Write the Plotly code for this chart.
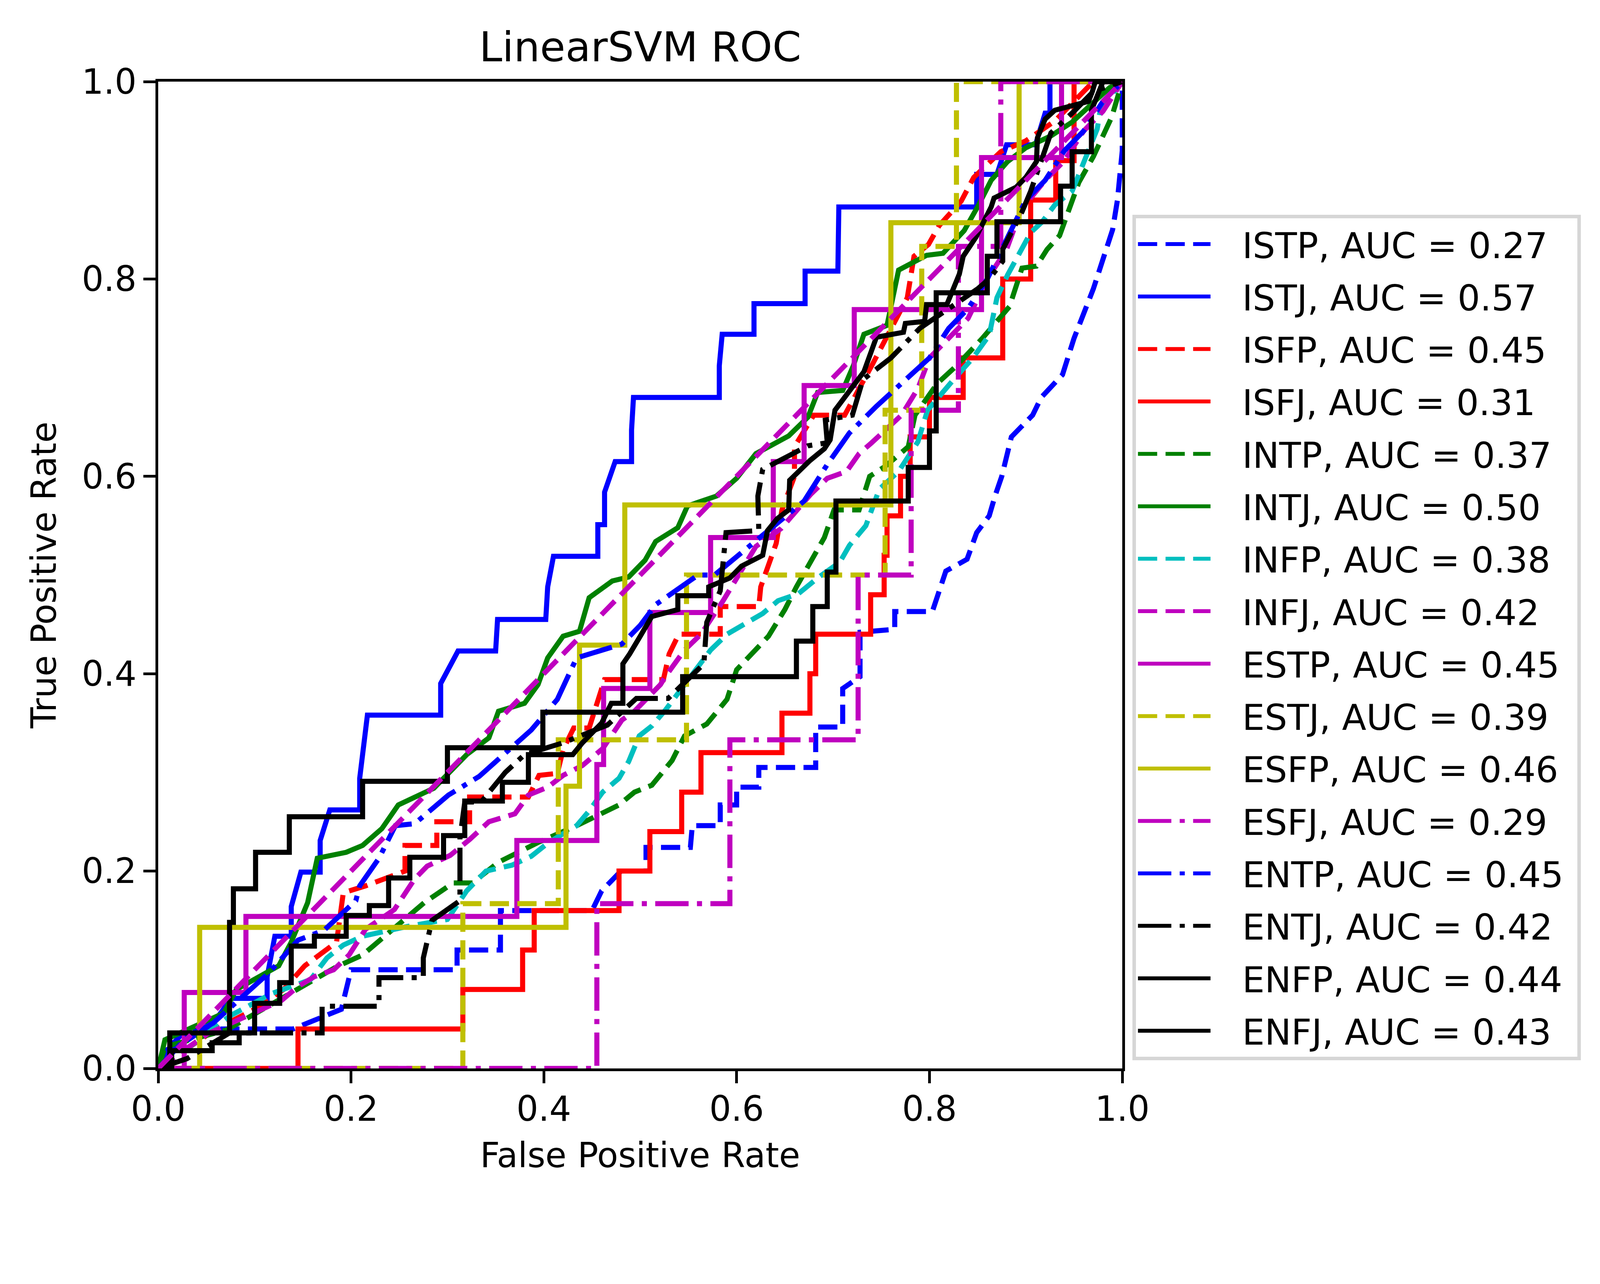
import plotly.graph_objects as go

# ROC points (fpr, tpr)
istp = [(0, 0), (0.01, 0.02), (0.03, 0.04), (0.14, 0.04), (0.19, 0.06), (0.2, 0.1), (0.31, 0.1), (0.31, 0.12),
        (0.355, 0.12), (0.355, 0.16), (0.45, 0.16), (0.46, 0.18), (0.48, 0.2), (0.506, 0.2), (0.506, 0.224),
        (0.552, 0.224), (0.554, 0.246), (0.583, 0.246), (0.583, 0.267), (0.6, 0.267), (0.6, 0.285),
        (0.623, 0.285), (0.623, 0.305), (0.682, 0.305), (0.682, 0.346), (0.71, 0.346), (0.71, 0.385),
        (0.728, 0.397), (0.728, 0.442), (0.764, 0.445), (0.764, 0.463), (0.803, 0.463), (0.817, 0.504),
        (0.839, 0.516), (0.849, 0.543), (0.862, 0.56), (0.868, 0.58), (0.875, 0.6), (0.885, 0.64),
        (0.907, 0.662), (0.916, 0.68), (0.938, 0.703), (0.95, 0.74), (0.97, 0.79), (0.98, 0.82),
        (0.99, 0.85), (0.995, 0.88), (1.0, 0.93), (1.0, 1.0)]
istj = [(0, 0), (0.007, 0.018), (0.031, 0.029), (0.057, 0.046), (0.076, 0.071), (0.113, 0.071), (0.113, 0.093),
        (0.121, 0.134), (0.138, 0.134), (0.138, 0.164), (0.148, 0.199), (0.168, 0.199), (0.168, 0.231),
        (0.178, 0.262), (0.209, 0.262), (0.209, 0.294), (0.217, 0.358), (0.293, 0.358), (0.293, 0.39),
        (0.311, 0.423), (0.35, 0.423), (0.352, 0.455), (0.402, 0.455), (0.404, 0.488), (0.41, 0.519),
        (0.456, 0.519), (0.456, 0.551), (0.463, 0.551), (0.463, 0.584), (0.474, 0.615), (0.491, 0.615),
        (0.491, 0.647), (0.493, 0.68), (0.582, 0.68), (0.582, 0.712), (0.585, 0.744), (0.618, 0.744),
        (0.618, 0.775), (0.671, 0.775), (0.671, 0.808), (0.705, 0.808), (0.705, 0.842), (0.706, 0.873),
        (0.849, 0.873), (0.849, 0.906), (0.87, 0.906), (0.88, 0.936), (0.91, 0.936), (0.92, 0.968),
        (0.925, 0.968), (0.925, 1.0), (1, 1)]
isfp = [(0, 0), (0.03, 0.02), (0.06, 0.04), (0.1, 0.06), (0.13, 0.08), (0.152, 0.104), (0.185, 0.128),
        (0.192, 0.178), (0.215, 0.185), (0.256, 0.2), (0.256, 0.226), (0.289, 0.226), (0.289, 0.25),
        (0.323, 0.25), (0.323, 0.275), (0.384, 0.275), (0.395, 0.297), (0.414, 0.299), (0.42, 0.323),
        (0.431, 0.345), (0.447, 0.345), (0.463, 0.394), (0.524, 0.394), (0.53, 0.42), (0.54, 0.44),
        (0.583, 0.44), (0.583, 0.468), (0.623, 0.468), (0.625, 0.488), (0.641, 0.532), (0.647, 0.566),
        (0.66, 0.6), (0.66, 0.63), (0.68, 0.662), (0.712, 0.662), (0.74, 0.712), (0.777, 0.781),
        (0.784, 0.823), (0.799, 0.835), (0.81, 0.854), (0.833, 0.879), (0.846, 0.903), (0.874, 0.929),
        (0.9, 0.94), (0.93, 0.96), (0.95, 0.98), (0.97, 1.0), (1, 1)]
isfj = [(0, 0), (0.145, 0), (0.145, 0.04), (0.316, 0.04), (0.316, 0.08), (0.378, 0.08), (0.378, 0.12),
        (0.39, 0.12), (0.39, 0.16), (0.478, 0.16), (0.478, 0.2), (0.51, 0.2), (0.51, 0.24), (0.543, 0.24),
        (0.543, 0.28), (0.563, 0.28), (0.563, 0.32), (0.647, 0.32), (0.647, 0.36), (0.676, 0.36),
        (0.676, 0.4), (0.682, 0.4), (0.682, 0.44), (0.739, 0.44), (0.739, 0.48), (0.753, 0.48),
        (0.753, 0.52), (0.756, 0.52), (0.756, 0.56), (0.77, 0.56), (0.77, 0.6), (0.78, 0.6), (0.78, 0.64),
        (0.8, 0.64), (0.8, 0.68), (0.835, 0.68), (0.835, 0.72), (0.876, 0.72), (0.876, 0.8), (0.905, 0.8),
        (0.905, 0.88), (0.931, 0.88), (0.931, 0.92), (0.95, 0.92), (0.95, 1.0), (1, 1)]
intp = [(0, 0), (0.007, 0.022), (0.071, 0.039), (0.125, 0.069), (0.145, 0.08), (0.185, 0.103), (0.212, 0.115),
        (0.239, 0.137), (0.276, 0.168), (0.306, 0.188), (0.326, 0.188), (0.353, 0.209), (0.394, 0.229),
        (0.434, 0.246), (0.478, 0.267), (0.494, 0.28), (0.512, 0.287), (0.533, 0.312), (0.546, 0.337),
        (0.569, 0.349), (0.59, 0.374), (0.6, 0.404), (0.616, 0.42), (0.633, 0.438), (0.65, 0.465),
        (0.662, 0.488), (0.691, 0.538), (0.701, 0.566), (0.727, 0.566), (0.738, 0.6), (0.754, 0.61),
        (0.778, 0.63), (0.785, 0.662), (0.808, 0.694), (0.828, 0.712), (0.855, 0.74), (0.883, 0.772),
        (0.896, 0.811), (0.911, 0.813), (0.922, 0.83), (0.935, 0.844), (0.946, 0.872), (0.955, 0.898),
        (0.97, 0.924), (0.979, 0.943), (0.989, 0.964), (1, 1)]
intj = [(0, 0), (0.007, 0.029), (0.068, 0.056), (0.081, 0.08), (0.125, 0.104), (0.138, 0.128), (0.155, 0.168),
        (0.165, 0.213), (0.195, 0.219), (0.212, 0.226), (0.232, 0.243), (0.249, 0.267), (0.286, 0.284),
        (0.299, 0.297), (0.32, 0.318), (0.343, 0.335), (0.353, 0.362), (0.38, 0.37), (0.394, 0.389),
        (0.404, 0.416), (0.42, 0.438), (0.437, 0.443), (0.447, 0.477), (0.471, 0.494), (0.488, 0.498),
        (0.505, 0.515), (0.516, 0.534), (0.539, 0.548), (0.549, 0.57), (0.579, 0.58), (0.6, 0.598),
        (0.62, 0.623), (0.654, 0.641), (0.674, 0.66), (0.684, 0.685), (0.71, 0.687), (0.721, 0.712),
        (0.732, 0.744), (0.756, 0.753), (0.768, 0.809), (0.797, 0.824), (0.814, 0.826), (0.836, 0.849),
        (0.851, 0.875), (0.864, 0.9), (0.881, 0.919), (0.9, 0.933), (0.926, 0.945), (0.948, 0.959),
        (0.987, 0.994), (1, 1)]
infp = [(0, 0), (0.037, 0.025), (0.074, 0.053), (0.118, 0.076), (0.158, 0.09), (0.175, 0.112), (0.192, 0.125),
        (0.212, 0.134), (0.259, 0.144), (0.3, 0.151), (0.32, 0.18), (0.34, 0.2), (0.367, 0.206),
        (0.387, 0.215), (0.405, 0.229), (0.434, 0.246), (0.447, 0.261), (0.461, 0.28), (0.478, 0.294),
        (0.488, 0.311), (0.499, 0.337), (0.512, 0.347), (0.526, 0.363), (0.553, 0.397), (0.573, 0.424),
        (0.59, 0.44), (0.61, 0.452), (0.627, 0.461), (0.643, 0.474), (0.664, 0.481), (0.684, 0.497),
        (0.707, 0.513), (0.717, 0.53), (0.734, 0.55), (0.748, 0.587), (0.768, 0.605), (0.788, 0.635),
        (0.798, 0.667), (0.825, 0.698), (0.845, 0.72), (0.862, 0.743), (0.87, 0.781), (0.881, 0.804),
        (0.894, 0.828), (0.905, 0.847), (0.917, 0.858), (0.93, 0.875), (0.948, 0.889), (0.957, 0.91),
        (0.965, 0.929), (0.974, 0.952), (0.978, 0.976), (0.989, 0.987), (1, 1)]
infj = [(0, 0), (0.051, 0.035), (0.128, 0.069), (0.145, 0.083), (0.162, 0.093), (0.182, 0.1), (0.198, 0.115),
        (0.215, 0.141), (0.245, 0.161), (0.266, 0.192), (0.279, 0.205), (0.303, 0.216), (0.323, 0.232),
        (0.343, 0.25), (0.37, 0.258), (0.384, 0.277), (0.404, 0.285), (0.42, 0.297), (0.44, 0.307),
        (0.461, 0.324), (0.481, 0.353), (0.494, 0.362), (0.521, 0.389), (0.526, 0.397), (0.546, 0.424),
        (0.563, 0.44), (0.586, 0.474), (0.62, 0.529), (0.646, 0.547), (0.677, 0.582), (0.694, 0.598),
        (0.714, 0.605), (0.727, 0.623), (0.74, 0.634), (0.771, 0.662), (0.788, 0.689), (0.8, 0.72),
        (0.82, 0.74), (0.84, 0.76), (0.86, 0.8), (0.88, 0.83), (0.895, 0.87), (0.92, 0.9), (0.94, 0.92),
        (0.96, 0.95), (0.98, 0.97), (1, 1)]
estp = [(0, 0), (0.027, 0), (0.027, 0.077), (0.091, 0.077), (0.091, 0.154), (0.372, 0.154), (0.372, 0.231),
        (0.455, 0.231), (0.455, 0.308), (0.462, 0.308), (0.462, 0.385), (0.51, 0.385), (0.51, 0.462),
        (0.573, 0.462), (0.573, 0.538), (0.638, 0.538), (0.638, 0.615), (0.67, 0.615), (0.67, 0.692),
        (0.722, 0.692), (0.722, 0.769), (0.854, 0.769), (0.854, 0.923), (0.937, 0.923), (0.937, 1.0), (1, 1)]
estj = [(0, 0), (0.316, 0), (0.316, 0.167), (0.415, 0.167), (0.415, 0.333), (0.548, 0.333), (0.548, 0.5),
        (0.754, 0.5), (0.754, 0.667), (0.792, 0.667), (0.792, 0.833), (0.828, 0.833), (0.828, 1.0), (1, 1)]
esfp = [(0, 0), (0.043, 0), (0.043, 0.143), (0.423, 0.143), (0.423, 0.286), (0.437, 0.286), (0.437, 0.429),
        (0.484, 0.429), (0.484, 0.571), (0.76, 0.571), (0.76, 0.857), (0.893, 0.857), (0.893, 1.0), (1, 1)]
esfj = [(0, 0), (0.455, 0), (0.455, 0.167), (0.593, 0.167), (0.593, 0.333), (0.726, 0.333), (0.726, 0.5),
        (0.781, 0.5), (0.781, 0.667), (0.83, 0.667), (0.83, 0.833), (0.874, 0.833), (0.874, 1.0), (1, 1)]
entp = [(0, 0), (0.03, 0.032), (0.057, 0.046), (0.098, 0.083), (0.115, 0.097), (0.145, 0.13), (0.172, 0.14),
        (0.205, 0.17), (0.209, 0.185), (0.229, 0.213), (0.246, 0.246), (0.266, 0.248), (0.301, 0.277),
        (0.333, 0.296), (0.38, 0.336), (0.387, 0.343), (0.414, 0.374), (0.427, 0.403), (0.434, 0.416),
        (0.481, 0.43), (0.5, 0.449), (0.516, 0.47), (0.56, 0.5), (0.577, 0.5), (0.67, 0.575), (0.694, 0.612),
        (0.717, 0.644), (0.745, 0.671), (0.778, 0.701), (0.8, 0.72), (0.82, 0.75), (0.84, 0.77), (0.86, 0.8),
        (0.88, 0.84), (0.9, 0.88), (0.92, 0.9), (0.94, 0.93), (0.96, 0.95), (0.98, 0.98), (1, 1)]
entj = [(0, 0), (0.03, 0.01), (0.074, 0.036), (0.17, 0.036), (0.17, 0.063), (0.229, 0.063), (0.229, 0.092),
        (0.275, 0.092), (0.275, 0.112), (0.284, 0.15), (0.313, 0.17), (0.313, 0.233), (0.318, 0.27),
        (0.335, 0.27), (0.36, 0.3), (0.38, 0.318), (0.42, 0.33), (0.466, 0.348), (0.496, 0.375),
        (0.529, 0.375), (0.566, 0.41), (0.569, 0.452), (0.583, 0.484), (0.589, 0.543), (0.623, 0.545),
        (0.622, 0.58), (0.627, 0.607), (0.674, 0.631), (0.694, 0.634), (0.692, 0.657), (0.72, 0.662),
        (0.731, 0.698), (0.76, 0.72), (0.79, 0.75), (0.82, 0.77), (0.85, 0.79), (0.862, 0.8), (0.876, 0.818),
        (0.876, 0.83), (0.896, 0.868), (0.905, 0.889), (0.926, 0.948), (0.95, 0.97), (0.97, 0.99), (1, 1)]
enfp = [(0, 0), (0.012, 0), (0.012, 0.036), (0.074, 0.036), (0.074, 0.148), (0.078, 0.148), (0.078, 0.182),
        (0.101, 0.182), (0.101, 0.219), (0.136, 0.219), (0.136, 0.255), (0.212, 0.255), (0.212, 0.291),
        (0.3, 0.291), (0.3, 0.325), (0.399, 0.325), (0.399, 0.361), (0.544, 0.361), (0.544, 0.397),
        (0.662, 0.397), (0.662, 0.433), (0.679, 0.433), (0.679, 0.468), (0.694, 0.468), (0.694, 0.503),
        (0.703, 0.503), (0.703, 0.575), (0.778, 0.575), (0.778, 0.609), (0.8, 0.609), (0.8, 0.646),
        (0.807, 0.646), (0.807, 0.786), (0.86, 0.786), (0.86, 0.823), (0.87, 0.823), (0.87, 0.858),
        (0.936, 0.858), (0.936, 0.894), (0.948, 0.894), (0.948, 0.929), (0.968, 0.929), (0.968, 0.971),
        (0.98, 1.0), (1, 1)]
enfj = [(0, 0), (0.014, 0), (0.014, 0.018), (0.056, 0.018), (0.056, 0.026), (0.084, 0.026), (0.084, 0.036),
        (0.1, 0.036), (0.1, 0.066), (0.126, 0.066), (0.126, 0.087), (0.138, 0.087), (0.138, 0.124),
        (0.162, 0.124), (0.162, 0.134), (0.195, 0.134), (0.195, 0.155), (0.219, 0.155), (0.219, 0.165),
        (0.239, 0.165), (0.239, 0.193), (0.261, 0.193), (0.261, 0.214), (0.296, 0.214), (0.296, 0.236),
        (0.318, 0.236), (0.318, 0.271), (0.357, 0.271), (0.357, 0.29), (0.384, 0.29), (0.384, 0.318),
        (0.43, 0.318), (0.44, 0.33), (0.45, 0.34), (0.46, 0.35), (0.47, 0.37), (0.482, 0.37), (0.482, 0.41),
        (0.489, 0.42), (0.5, 0.438), (0.512, 0.458), (0.539, 0.465), (0.539, 0.479), (0.571, 0.479),
        (0.571, 0.488), (0.593, 0.497), (0.605, 0.509), (0.627, 0.52), (0.632, 0.545), (0.642, 0.557),
        (0.654, 0.566), (0.655, 0.596), (0.676, 0.616), (0.691, 0.628), (0.697, 0.637), (0.702, 0.667),
        (0.716, 0.685), (0.727, 0.7), (0.732, 0.706), (0.745, 0.741), (0.773, 0.746), (0.775, 0.755),
        (0.795, 0.757), (0.797, 0.774), (0.818, 0.774), (0.831, 0.805), (0.835, 0.823), (0.848, 0.842),
        (0.855, 0.856), (0.864, 0.873), (0.867, 0.882), (0.89, 0.893), (0.9, 0.903), (0.911, 0.919),
        (0.912, 0.943), (0.92, 0.962), (0.93, 0.971), (0.965, 0.98), (0.969, 0.99), (0.972, 1.0), (1, 1)]

types = ['ISTP', 'ISTJ', 'ISFP', 'ISFJ', 'INTP', 'INTJ', 'INFP', 'INFJ',
         'ESTP', 'ESTJ', 'ESFP', 'ESFJ', 'ENTP', 'ENTJ', 'ENFP', 'ENFJ']
aucs = [0.27, 0.57, 0.45, 0.31, 0.37, 0.50, 0.38, 0.42,
        0.45, 0.39, 0.46, 0.29, 0.45, 0.42, 0.44, 0.43]
curves = [istp, istj, isfp, isfj, intp, intj, infp, infj,
          estp, estj, esfp, esfj, entp, entj, enfp, enfj]
styles = ['b--', 'b-', 'r--', 'r-', 'g--', 'g-', 'c--', 'm--',
          'm-', 'y--', 'y-', 'm-.', 'b-.', 'k-.', 'k-', 'k-']

colors = {'b': '#0000ff', 'r': '#ff0000', 'g': '#008000', 'c': '#00bfbf',
          'm': '#bf00bf', 'y': '#bfbf00', 'k': '#000000'}

# the page gets shown a bit enlarged, so every pixel size is scaled down
S = 0.9285


def px(v):
    return v * S


dashes = {'--': '{:.1f}px,{:.1f}px'.format(px(53), px(23)),
          '-.': '{:.1f}px,{:.1f}px,{:.1f}px,{:.1f}px'.format(px(92), px(23), px(14), px(23)),
          '-': 'solid'}

FONT = 'DejaVu Sans'
LW = px(14)
FS = px(95)
LEG_FS = px(98)

fig = go.Figure()

for name, auc, pts, st in zip(types, aucs, curves, styles):
    fig.add_trace(go.Scatter(
        x=[p[0] for p in pts], y=[p[1] for p in pts],
        mode='lines', name='\u00a0\u00a0\u2009{}, AUC = {:.2f}\u00a0'.format(name, auc),
        legendgroup=name,
        line=dict(color=colors[st[0]], width=LW, dash=dashes[st[1:]])))

# chance line
fig.add_trace(go.Scatter(x=[0, 1], y=[0, 1], mode='lines', showlegend=False,
                         line=dict(color=colors['m'], width=LW, dash=dashes['--'])))

axis_style = dict(range=[0, 1], showgrid=False, zeroline=False, showline=True,
                  linecolor='black', linewidth=px(8), mirror=True,
                  ticks='outside', ticklen=px(33), tickwidth=px(8), tickcolor='black',
                  tickvals=[0, 0.2, 0.4, 0.6, 0.8, 1.0],
                  ticktext=['0.0', '0.2', '0.4', '0.6', '0.8', '1.0'],
                  tickfont=dict(family=FONT, size=FS, color='black'))

fig.update_layout(
    width=round(px(4395)), height=round(px(3288)),
    margin=dict(l=px(428), r=px(1310), t=px(217), b=px(350), autoexpand=False),
    paper_bgcolor='white', plot_bgcolor='white',
    font=dict(family=FONT, size=FS, color='black'),
    title=dict(text='LinearSVM ROC', x=0.5, xref='paper', y=1 - 121 / 3288,
               yanchor='middle', font=dict(family=FONT, size=px(114), color='black')),
    xaxis=dict(axis_style, ticklabelstandoff=-10),
    yaxis=axis_style,
    legend=dict(x=1.0105, y=0.865, xanchor='left', yanchor='top',
                bgcolor='white', bordercolor='#d6d6d6', borderwidth=px(10),
                font=dict(family=FONT, size=LEG_FS, color='black'),
                itemwidth=px(200), tracegroupgap=px(14)),
    showlegend=True,
)

fig.add_annotation(text='False Positive Rate', xref='paper', yref='paper', x=0.5, y=0,
                   yanchor='middle', yshift=-px(240), showarrow=False,
                   font=dict(family=FONT, size=FS, color='black'))
fig.add_annotation(text='True Positive Rate', xref='paper', yref='paper', x=0, y=0.5,
                   xanchor='center', xshift=-px(315), textangle=-90, showarrow=False,
                   font=dict(family=FONT, size=FS, color='black'))

fig.write_html('out.html')
